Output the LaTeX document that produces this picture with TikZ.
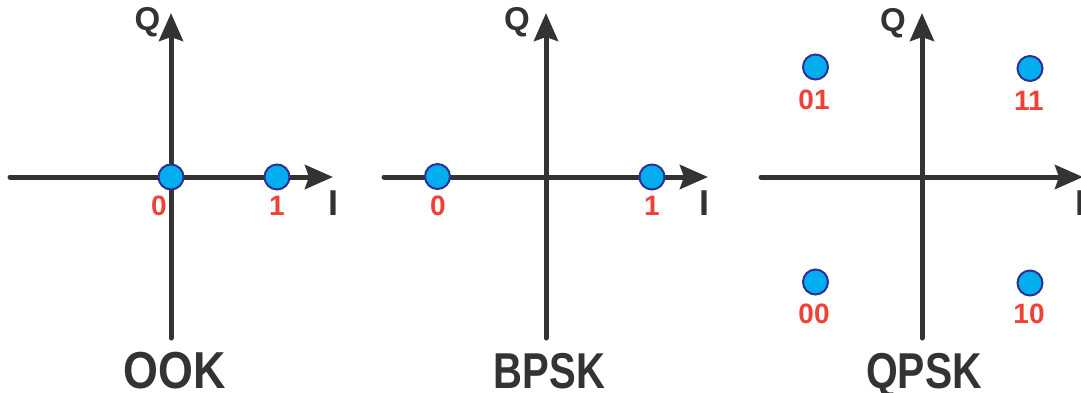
\documentclass[tikz,border=0pt]{standalone}
\usepackage{fontspec}
\setmainfont{Liberation Sans}
\usetikzlibrary{arrows.meta}

\definecolor{axisgray}{HTML}{333333}
\definecolor{bitred}{HTML}{EF4136}
\definecolor{symfill}{HTML}{00AEEF}
\definecolor{symedge}{HTML}{2E3192}

\tikzset{
  axisline/.style={line width=5pt, draw=axisgray, line cap=round,
    -{Stealth[length=28pt,width=24pt,inset=4pt]}},
  symbol/.style={circle, fill=symfill, draw=symedge, line width=2pt,
    minimum size=25pt, inner sep=0pt},
  bitlabel/.style={text=bitred, inner sep=0pt, anchor=base,
    font=\fontsize{28}{28}\selectfont\bfseries},
  axislabel/.style={text=axisgray, inner sep=0pt, anchor=base,
    font=\fontsize{33}{33}\selectfont\bfseries},
  ilabel/.style={text=axisgray, inner sep=0pt, anchor=base,
    font=\fontsize{36}{36}\selectfont\bfseries},
  title/.style={text=axisgray, inner sep=0pt, anchor=base,
    font=\fontsize{40}{40}\selectfont\bfseries}
}

\begin{document}
\begin{tikzpicture}[x=1pt, y=-1pt]
\useasboundingbox (0,0) rectangle (1081,392);

% ---------- OOK ----------
\coordinate (ookL) at (10,177);   \coordinate (ookR) at (333,177);
\coordinate (ookB) at (171,338);  \coordinate (ookT) at (171,13);
\draw[axisline] (ookL) -- (ookR);
\draw[axisline] (ookB) -- (ookT);
\node[symbol] (ook0) at (171,177) {};
\node[symbol] (ook1) at (277,177) {};
\node[bitlabel] (ookl0) at (159,215) {0};
\node[bitlabel] (ookl1) at (277,215) {1};
\node[axislabel] (ookQ) at (147.5,30) {Q};
\node[ilabel] (ookI) at (333,215) {I};
\node[title] (ookT1) at (175,388) {\scalebox{1.12}[1.3]{OOK}};

% ---------- BPSK ----------
\coordinate (bpL) at (384,177);   \coordinate (bpR) at (708,177);
\coordinate (bpB) at (546,338);   \coordinate (bpT) at (546,13);
\draw[axisline] (bpL) -- (bpR);
\draw[axisline] (bpB) -- (bpT);
\node[symbol] (bp0) at (437.5,176.5) {};
\node[symbol] (bp1) at (652,177) {};
\node[bitlabel] (bpl0) at (438,215) {0};
\node[bitlabel] (bpl1) at (652,215) {1};
\node[axislabel] (bpQ) at (517,30) {Q};
\node[ilabel] (bpI) at (704.5,215) {I};
\node[title] (bpT1) at (549.5,388) {\scalebox{1}[1.26]{BPSK}};

% ---------- QPSK ----------
\coordinate (qpL) at (761,177);   \coordinate (qpR) at (1083,177);
\coordinate (qpB) at (922,338);   \coordinate (qpT) at (922,13);
\draw[axisline] (qpL) -- (qpR);
\draw[axisline] (qpB) -- (qpT);
\node[symbol] (qp01) at (815.5,67) {};
\node[symbol] (qp11) at (1030,68.5) {};
\node[symbol] (qp00) at (815.5,282) {};
\node[symbol] (qp10) at (1030,283) {};
\node[bitlabel] (qpl01) at (814,109) {01};
\node[bitlabel] (qpl11) at (1029,110) {11};
\node[bitlabel] (qpl00) at (814,323) {00};
\node[bitlabel] (qpl10) at (1029,323) {10};
\node[axislabel] (qpQ) at (893,31) {Q};
\node[ilabel] (qpI) at (1080.5,215) {I};
\node[title] (qpT1) at (924,388) {\scalebox{1.02}[1.26]{QPSK}};
\end{tikzpicture}
\end{document}
